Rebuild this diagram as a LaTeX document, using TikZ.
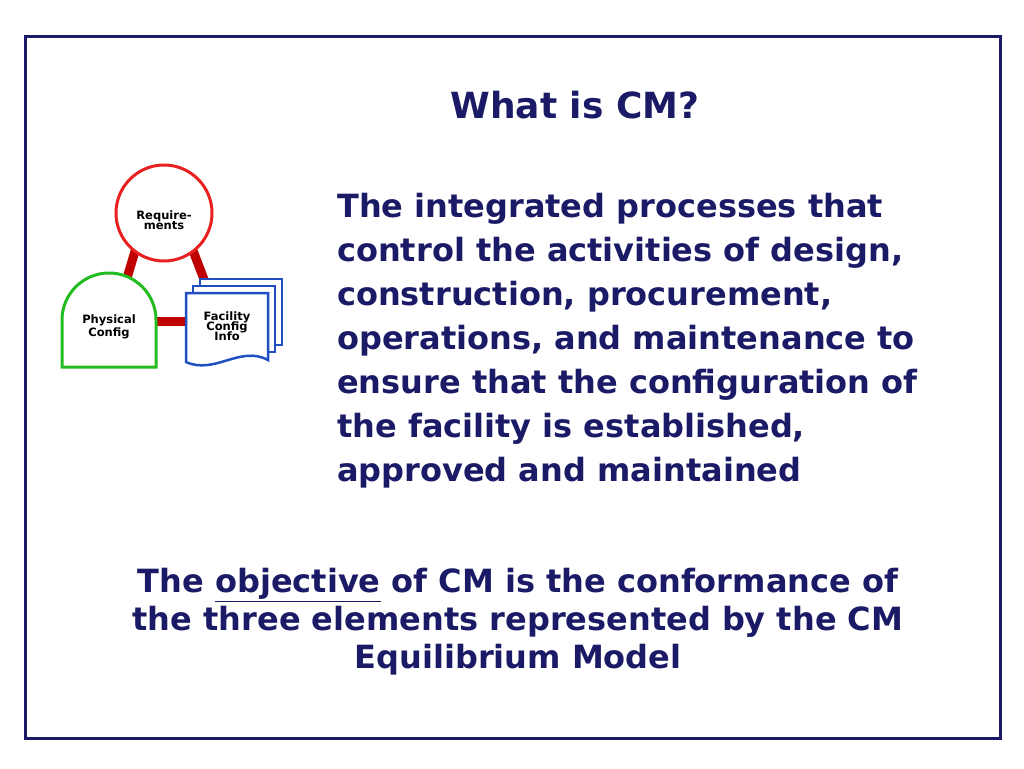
\documentclass[tikz,border=0pt]{standalone}
\usepackage{fontspec}
\setmainfont{DejaVu Sans}
\definecolor{navy}{HTML}{1A1A66}
\definecolor{dred}{HTML}{C00000}
\definecolor{cred}{HTML}{E82020}
\definecolor{cgreen}{HTML}{22BB22}
\definecolor{cblue}{HTML}{1F4FC0}
\begin{document}
\begin{tikzpicture}[x=1pt,y=-1pt,
  txt/.style={text=navy,font=\bfseries\fontsize{32}{44}\selectfont,inner sep=0},
  small/.style={font=\bfseries\fontsize{11.5}{12}\selectfont,align=center},
  link/.style={dred,line width=9pt},
  page/.style={draw=cblue,line width=2.5pt,fill=white}]
\useasboundingbox (0,0) rectangle (1024,768);
\fill[white] (0,0) rectangle (1024,768);
\draw[navy,line width=3pt] (25,37) rectangle (1000,738);
\node[txt,font=\bfseries\fontsize{36}{44}\selectfont] (title) at (575,105) {What is CM?};
% links
\draw[link] (136,248) -- (127,278);
\draw[link] (192,248) -- (205,282);
\draw[link] (154,321) -- (188,321);
% requirements
\node[circle,draw=cred,line width=3pt,fill=white,minimum size=96pt,inner sep=0] (req) at (164,213) {};
\node[small,anchor=center] (reqt) at (164,220) {Require-\\[-2pt]ments};
% physical
\draw[cgreen,line width=3pt,fill=white] (62,367) -- (62,320) arc[start angle=180,end angle=360,radius=47] -- (156,367) -- cycle;
\node[small] (phys) at (109,327) {Physical\\[1pt]Config};
% documents
\draw[page] (200,279) rectangle (282,345);
\draw[page] (193,286) rectangle (275,352);
\draw[page] (186,293) -- (268,293) -- (268,360) .. controls (240,345) and (215,375) .. (186,362) -- cycle;
\node[small] (fac) at (227,326) {Facility\\[-2pt]Config\\[-2pt]Info};
% body
\node[txt,anchor=north west,align=left] (body) at (337,193) {The integrated processes that\\control the activities of design,\\construction, procurement,\\operations, and maintenance to\\ensure that the configuration of\\the facility is established,\\approved and maintained};
\node[txt,anchor=north,align=center,font=\bfseries\fontsize{32}{38}\selectfont] (obj) at (518,568) {The \underline{objective} of CM is the conformance of\\the three elements represented by the CM\\Equilibrium Model};
\end{tikzpicture}
\end{document}
